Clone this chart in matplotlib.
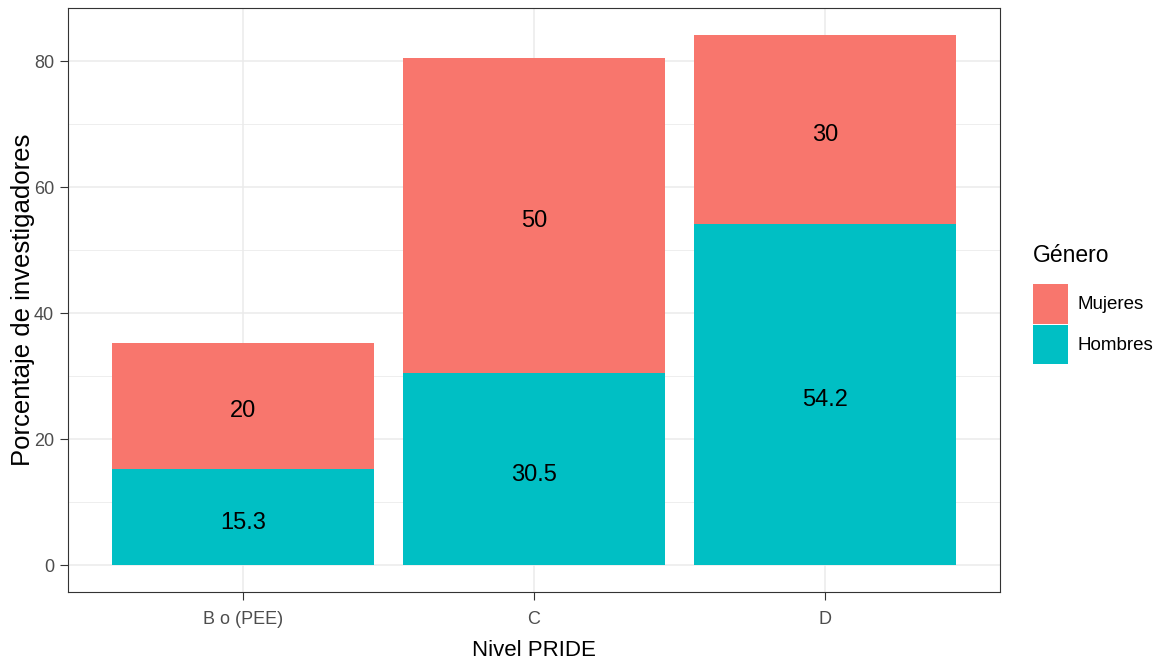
import matplotlib
matplotlib.use("Agg")
import matplotlib.pyplot as plt
from matplotlib.patches import Patch

niveles = ["B o (PEE)", "C", "D"]
hombres = [15.3, 30.5, 54.2]
mujeres = [20, 50, 30]
serie_nombres = ["Mujeres", "Hombres"]
col_muj = "#F8766D"
col_hom = "#00BFC4"

plt.rcParams['font.family'] = ['Liberation Sans', 'DejaVu Sans']

fig = plt.figure(figsize=(11.61, 6.60), dpi=100)
ax = fig.add_axes([68/1161, 1 - 592/660, (1000-68)/1161, (592-8)/660])

x = list(range(1, len(niveles) + 1))
ax.bar(x, hombres, width=0.9, color=col_hom, zorder=3)
ax.bar(x, mujeres, width=0.9, bottom=hombres, color=col_muj, zorder=3)

# etiquetas centradas en cada segmento (un poco abajo, como en ggplot)
for xi, h, m in zip(x, hombres, mujeres):
    for yv, lab in [(h / 2, h), (h + m / 2, m)]:
        ax.annotate(f"{lab:g}", (xi, yv), xytext=(0, -4), textcoords="offset points",
                    ha="center", va="center", fontsize=17, zorder=4)

tot = max(h + m for h, m in zip(hombres, mujeres))
pad = tot * 0.05
ax.set_ylim(-pad, tot + pad)
ax.set_xlim(0.4, len(niveles) + 0.6)
ax.set_yticks([0, 20, 40, 60, 80])
ax.set_yticks([10, 30, 50, 70], minor=True)
ax.set_xticks(x)
ax.set_xticklabels(niveles)
ax.grid(True, which="major", color="#EBEBEB", linewidth=1.1, zorder=0)
ax.grid(True, which="minor", axis="y", color="#EBEBEB", linewidth=0.6, zorder=0)
ax.tick_params(axis="both", which="major", colors="#333333", labelcolor="#4D4D4D",
               labelsize=13, length=6, width=0.8)
ax.tick_params(axis="x", which="major", pad=8)
ax.tick_params(axis="y", which="major", pad=4)
ax.tick_params(axis="both", which="minor", length=0)
for s in ax.spines.values():
    s.set_color("#333333")
    s.set_linewidth(0.8)
ax.set_xlabel("Nivel PRIDE", fontsize=16, labelpad=8)
ax.set_ylabel("Porcentaje de investigadores", fontsize=18.5, labelpad=-1)

handles = [Patch(facecolor=col_muj), Patch(facecolor=col_hom)]
leg = fig.legend(handles, serie_nombres, title="Género", loc="upper left",
                 bbox_to_anchor=(1033/1161, 1 - 244/660), frameon=False,
                 fontsize=13.5, title_fontsize=16.5, handlelength=1.87, handleheight=2.9,
                 handletextpad=0.5, labelspacing=0.05, borderaxespad=0, borderpad=0)
leg._legend_box.align = "left"
leg._legend_box.sep = 12

fig.savefig("out.png", dpi=100)
